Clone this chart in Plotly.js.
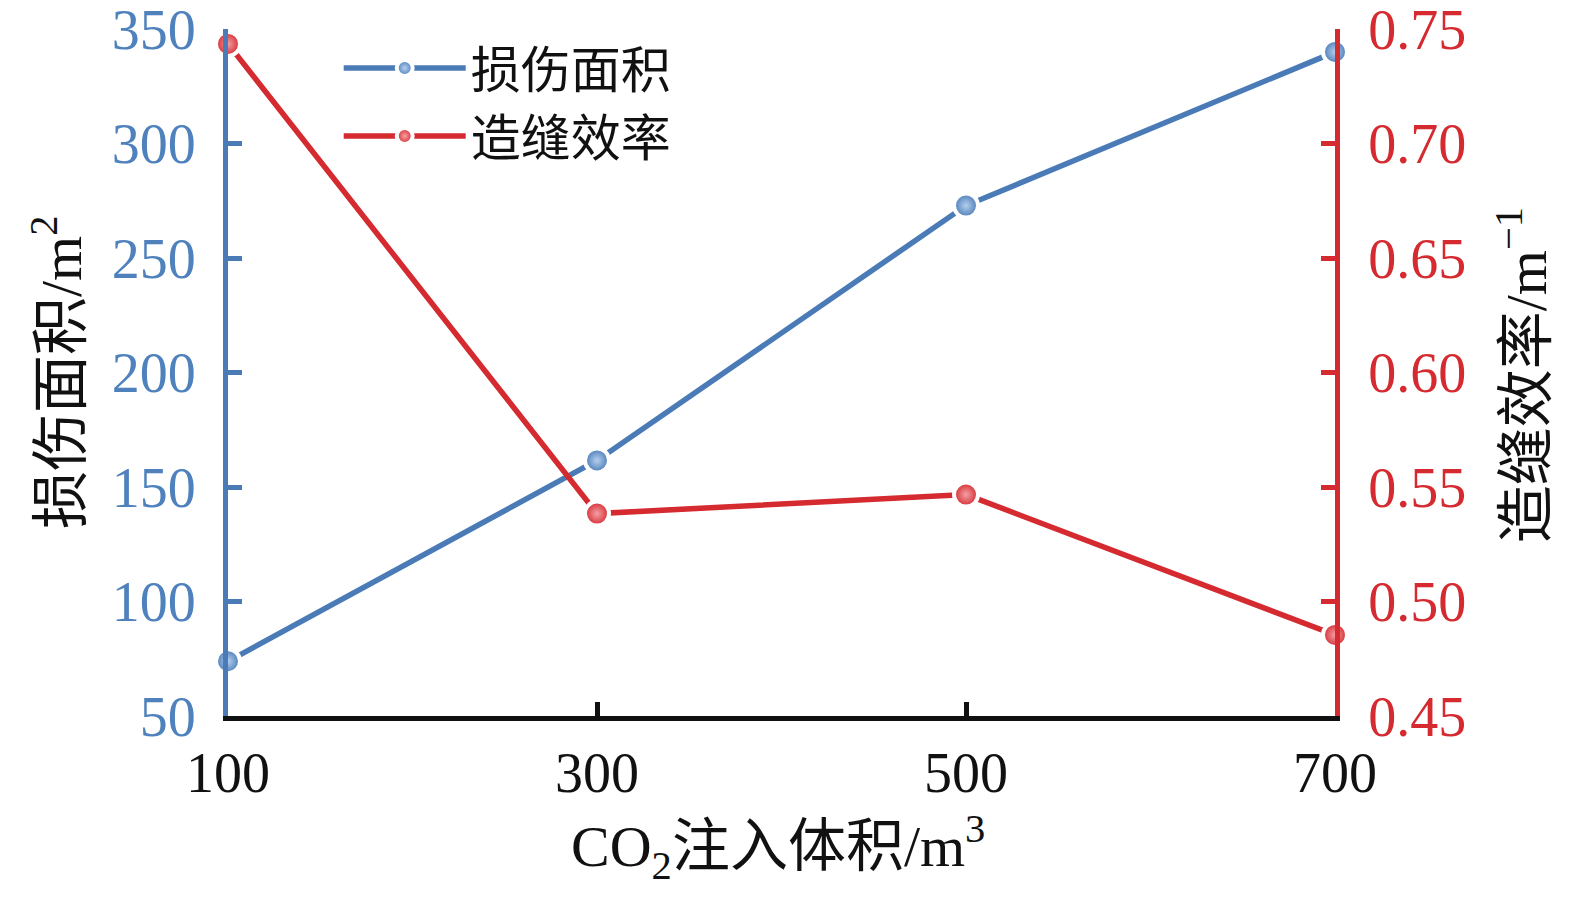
<!DOCTYPE html>
<html>
<head>
<meta charset="utf-8">
<script src="https://cdn.plot.ly/plotly-3.0.1.min.js"></script>
<style>
  html, body { margin: 0; padding: 0; background: #fff; }
  #chart { width: 1575px; height: 899px; }
</style>
</head>
<body>
<div id="chart"></div>
<script>
var volumes = [100, 300, 500, 700];
var damageArea = [73.9, 161.6, 272.9, 340];
var fracEfficiency = [0.7435, 0.5384, 0.5467, 0.4854];

var blue = '#4a7bb7';
var red = '#d42a30';
var serif = '"Liberation Serif", "Noto Sans CJK SC", serif';

var trace1 = {
  x: volumes,
  y: damageArea,
  name: '损伤面积',
  type: 'scatter',
  mode: 'lines+markers',
  cliponaxis: false,
  line: { color: blue, width: 5.5 },
  marker: {
    color: blue,
    size: 24,
    line: { color: '#ffffff', width: 4 },
    gradient: { type: 'radial', color: '#b4cfee' }
  }
};

var trace2 = {
  x: volumes,
  y: fracEfficiency,
  name: '造缝效率',
  yaxis: 'y2',
  type: 'scatter',
  mode: 'lines+markers',
  cliponaxis: false,
  line: { color: red, width: 5.5 },
  marker: {
    color: red,
    size: 24,
    line: { color: '#ffffff', width: 4 },
    gradient: { type: 'radial', color: '#f4a0a4' }
  }
};

var data = [trace1, trace2];

var layout = {
  width: 1575,
  height: 899,
  margin: { l: 228, r: 240, t: 29, b: 183 },
  paper_bgcolor: '#ffffff',
  plot_bgcolor: '#ffffff',
  font: { family: serif, size: 56, color: '#111' },
  showlegend: true,
  legend: {
    x: 0.1, y: 1.0,
    xanchor: 'left', yanchor: 'top',
    bgcolor: 'rgba(0,0,0,0)',
    itemwidth: 122,
    font: { family: serif, size: 50, color: '#111' },
    tracegroupgap: 0
  },
  xaxis: {
    range: [100, 700],
    tickvals: volumes,
    ticks: 'inside',
    ticklen: 14,
    tickwidth: 5,
    tickcolor: '#111',
    showline: true,
    linecolor: '#111',
    linewidth: 5,
    showgrid: false,
    zeroline: false,
    ticklabelstandoff: 4,
    ticklabeloverflow: 'allow',
    tickfont: { family: serif, size: 56, color: '#111' }
  },
  yaxis: {
    range: [50, 350],
    dtick: 50,
    ticks: 'inside',
    ticklen: 14,
    tickwidth: 5,
    tickcolor: blue,
    showline: true,
    linecolor: blue,
    linewidth: 5,
    showgrid: false,
    zeroline: false,
    ticklabelstandoff: 16,
    ticklabeloverflow: 'allow',
    tickfont: { family: serif, size: 56, color: '#4f82bd' }
  },
  yaxis2: {
    range: [0.45, 0.75],
    dtick: 0.05,
    tickformat: '.2f',
    overlaying: 'y',
    side: 'right',
    ticks: 'inside',
    ticklen: 14,
    tickwidth: 5,
    tickcolor: red,
    showline: true,
    linecolor: red,
    linewidth: 5,
    showgrid: false,
    zeroline: false,
    ticklabelstandoff: 17,
    ticklabeloverflow: 'allow',
    tickfont: { family: serif, size: 56, color: red }
  },
  annotations: [
    {
      text: 'CO<sub>2</sub>注入体积/m<sup>3</sup>',
      xref: 'paper', yref: 'paper', x: 0.497, y: -0.19,
      xanchor: 'center', yanchor: 'middle', showarrow: false,
      font: { family: serif, size: 58, color: '#111' }
    },
    {
      text: '损伤面积/m<sup>2</sup>',
      xref: 'paper', yref: 'paper', x: -0.154, y: 0.5,
      xanchor: 'center', yanchor: 'middle', showarrow: false, textangle: -90,
      font: { family: serif, size: 58, color: '#111' }
    },
    {
      text: '造缝效率/m<sup>−1</sup>',
      xref: 'paper', yref: 'paper', x: 1.169, y: 0.496,
      xanchor: 'center', yanchor: 'middle', showarrow: false, textangle: -90,
      font: { family: serif, size: 58, color: '#111' }
    }
  ]
};

Plotly.newPlot('chart', data, layout, { displayModeBar: false, staticPlot: true });
</script>
</body>
</html>
